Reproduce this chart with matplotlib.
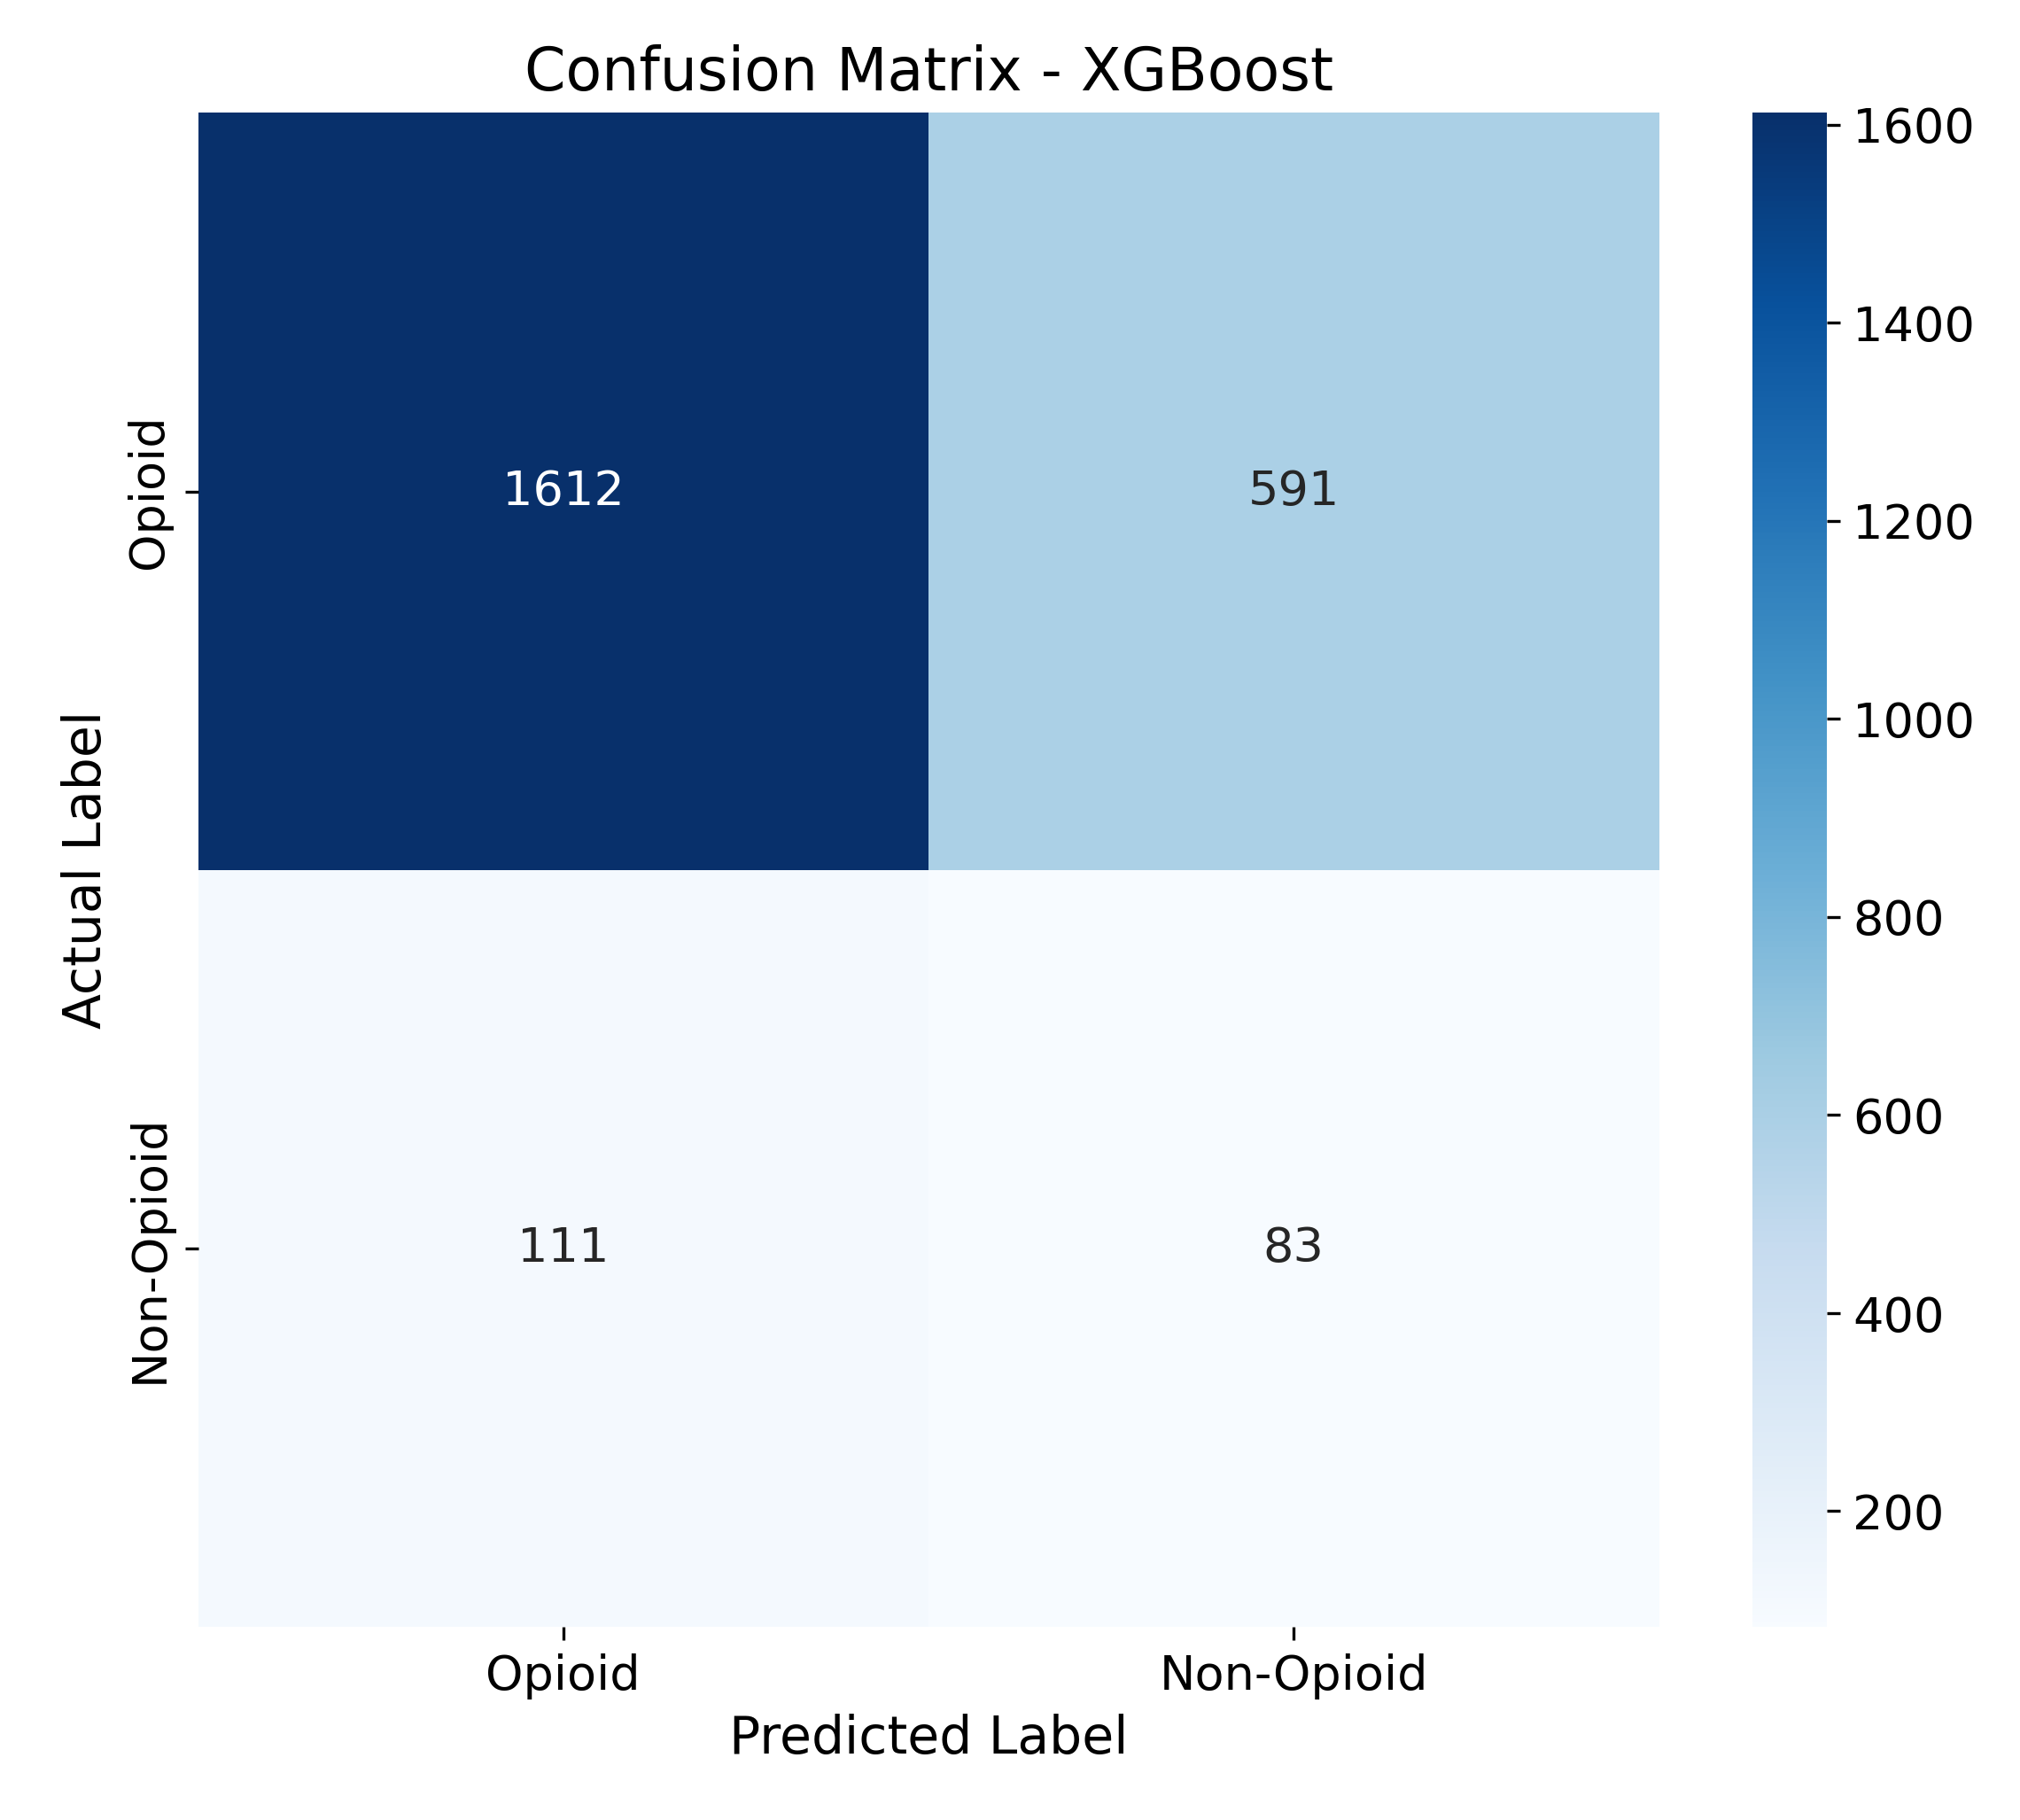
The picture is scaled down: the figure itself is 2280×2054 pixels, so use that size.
import matplotlib
matplotlib.use("Agg")
import matplotlib.pyplot as plt
import seaborn as sns
import numpy as np

labels = ["Opioid", "Non-Opioid"]
cm = np.array([[1612, 591], [111, 83]])

fig = plt.figure(figsize=(7.603, 6.847), dpi=300)
ax = fig.add_axes([0.098, 0.106, 0.723, 0.832])
cax = fig.add_axes([0.867, 0.106, 0.037, 0.832])
sns.heatmap(cm, annot=True, fmt="d", cmap="Blues", ax=ax, cbar_ax=cax,
            xticklabels=labels, yticklabels=labels, annot_kws={"size": 13})
ax.set_title("Confusion Matrix - XGBoost", fontsize=16)
ax.set_xlabel("Predicted Label", fontsize=14)
ax.set_ylabel("Actual Label", fontsize=14)
ax.tick_params(labelsize=13)
cax.tick_params(labelsize=13)
fig.savefig("out.png", dpi=300)
